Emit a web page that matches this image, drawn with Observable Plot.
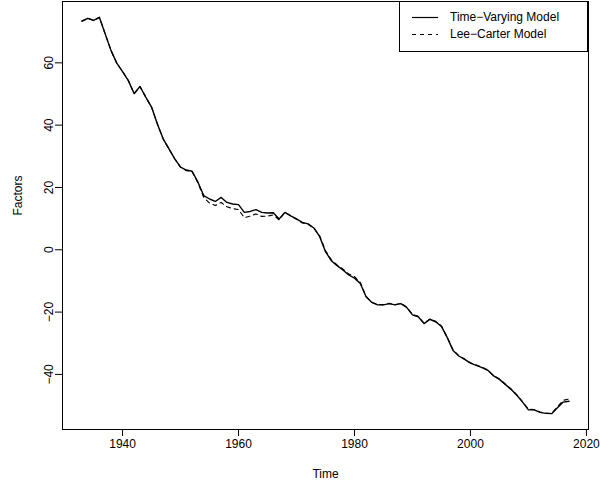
<!DOCTYPE html>
<html>
<head>
<meta charset="utf-8">
<script src="https://cdn.jsdelivr.net/npm/d3@7"></script>
<script src="https://cdn.jsdelivr.net/npm/@observablehq/plot@0.6"></script>
<style>
  html, body { margin: 0; padding: 0; background: #fff; }
  #wrap { position: relative; width: 600px; height: 488px; font-family: "Liberation Sans", Arial, Helvetica, sans-serif; }
  #legend { position: absolute; left: 399px; top: 1px; width: 189px; height: 51px; box-sizing: border-box; border: 1px solid #000; background: #fff; font-size: 12px; }
  #legend .row { position: absolute; left: 0; height: 14px; display: flex; align-items: center; }
  #legend svg { display: block; }
</style>
</head>
<body>
<div id="wrap"></div>
<script>
const firstYear = 1933;
const timeVarying = [
  73.4, 74.3, 73.6, 74.6, 69.3, 64.0, 59.9, 57.2, 54.3, 50.1,
  52.4, 49.0, 45.8, 40.4, 35.6, 32.4, 29.2, 26.5, 25.6, 25.2,
  21.7, 17.4, 16.3, 15.5, 16.8, 15.2, 14.7, 14.5, 12.0, 12.3,
  12.9, 12.0, 11.8, 11.9, 9.9, 12.0, 10.9, 9.9, 8.8, 8.3,
  7.0, 4.2, -0.6, -3.5, -5.1, -6.5, -8.1, -9.1, -10.8, -15.1,
  -16.9, -17.7, -17.7, -17.3, -17.7, -17.3, -18.5, -20.9, -21.5, -23.7,
  -22.3, -23.1, -24.6, -28.2, -32.3, -34.1, -35.2, -36.4, -37.1, -37.8,
  -38.7, -40.5, -41.6, -43.2, -44.8, -46.7, -48.9, -51.4, -51.4, -52.2,
  -52.5, -52.6, -50.7, -48.9, -48.6
];
const leeCarter = [
  73.4, 74.3, 73.6, 74.6, 69.3, 64.0, 59.9, 57.2, 54.3, 50.1,
  52.4, 49.0, 45.8, 40.4, 35.6, 32.4, 29.2, 26.5, 25.4, 25.0,
  21.5, 16.8, 15.0, 14.2, 15.2, 13.8, 13.2, 12.9, 10.3, 10.8,
  11.5, 10.7, 10.8, 11.2, 9.6, 12.0, 10.9, 9.8, 8.6, 8.2,
  6.9, 4.4, -0.3, -3.2, -4.9, -6.2, -7.8, -8.6, -10.5, -15.0,
  -16.9, -17.6, -17.6, -17.2, -17.6, -17.2, -18.4, -20.8, -21.4, -23.6,
  -22.3, -23.0, -24.5, -28.1, -32.2, -34.0, -35.1, -36.3, -37.0, -37.7,
  -38.6, -40.4, -41.5, -43.1, -44.7, -46.6, -48.8, -51.2, -51.3, -52.1,
  -52.4, -52.5, -50.4, -48.3, -47.9
];
const xTicks = [1940, 1960, 1980, 2000, 2020];
const yTicks = [-40, -20, 0, 20, 40, 60];
const seriesNames = ["Time\u2212Varying Model", "Lee\u2212Carter Model"];
const xLabel = "Time";
const yLabel = "Factors";

const years = timeVarying.map((_, i) => firstYear + i);
const tvData = years.map((t, i) => ({t, v: timeVarying[i]}));
const lcData = years.map((t, i) => ({t, v: leeCarter[i]}));

// R-style 4% axis extension
function rExtend([a, b]) { const d = (b - a) * 0.04; return [a - d, b + d]; }
const xDomain = rExtend(d3.extent(years));
const yDomain = rExtend(d3.extent(timeVarying.concat(leeCarter)));

const chart = Plot.plot({
  width: 600,
  height: 488,
  marginLeft: 62,
  marginRight: 12,
  marginTop: 1,
  marginBottom: 59,
  style: { fontFamily: "Liberation Sans, Arial, Helvetica, sans-serif", fontSize: "12px", background: "#fff", color: "#000" },
  x: { domain: xDomain },
  y: { domain: yDomain },
  marks: [
    Plot.frame({ stroke: "#000", strokeWidth: 1 }),
    Plot.axisX({ ticks: xTicks, tickFormat: d => String(d), tickSize: 7, tickPadding: 3, label: null, fontSize: 12 }),
    Plot.axisY({ ticks: yTicks, tickSize: 7, tickRotate: -90, tickPadding: 3, label: null, fontSize: 12 }),
    Plot.text([xLabel], { text: d => d, frameAnchor: "bottom", dy: 48, fontSize: 12 }),
    Plot.text([yLabel], { text: d => d, frameAnchor: "left", dx: -44, rotate: -90, fontSize: 12 }),
    Plot.line(tvData, { x: "t", y: "v", stroke: "#000", strokeWidth: 1.4 }),
    Plot.line(lcData, { x: "t", y: "v", stroke: "#000", strokeWidth: 1.2, strokeDasharray: "4,4" })
  ]
});

const wrap = document.getElementById("wrap");
wrap.appendChild(chart);

const legend = document.createElement("div");
legend.id = "legend";
const dashes = [null, "4,4"];
seriesNames.forEach((name, i) => {
  const row = document.createElement("div");
  row.className = "row";
  row.style.top = (8 + i * 17) + "px";
  row.innerHTML = `<svg width="50" height="14"><line x1="12" x2="38" y1="7.5" y2="7.5" stroke="#000" stroke-width="1.2" ${dashes[i] ? `stroke-dasharray="${dashes[i]}"` : ""}/></svg><span>${name}</span>`;
  legend.appendChild(row);
});
wrap.appendChild(legend);
</script>
</body>
</html>
